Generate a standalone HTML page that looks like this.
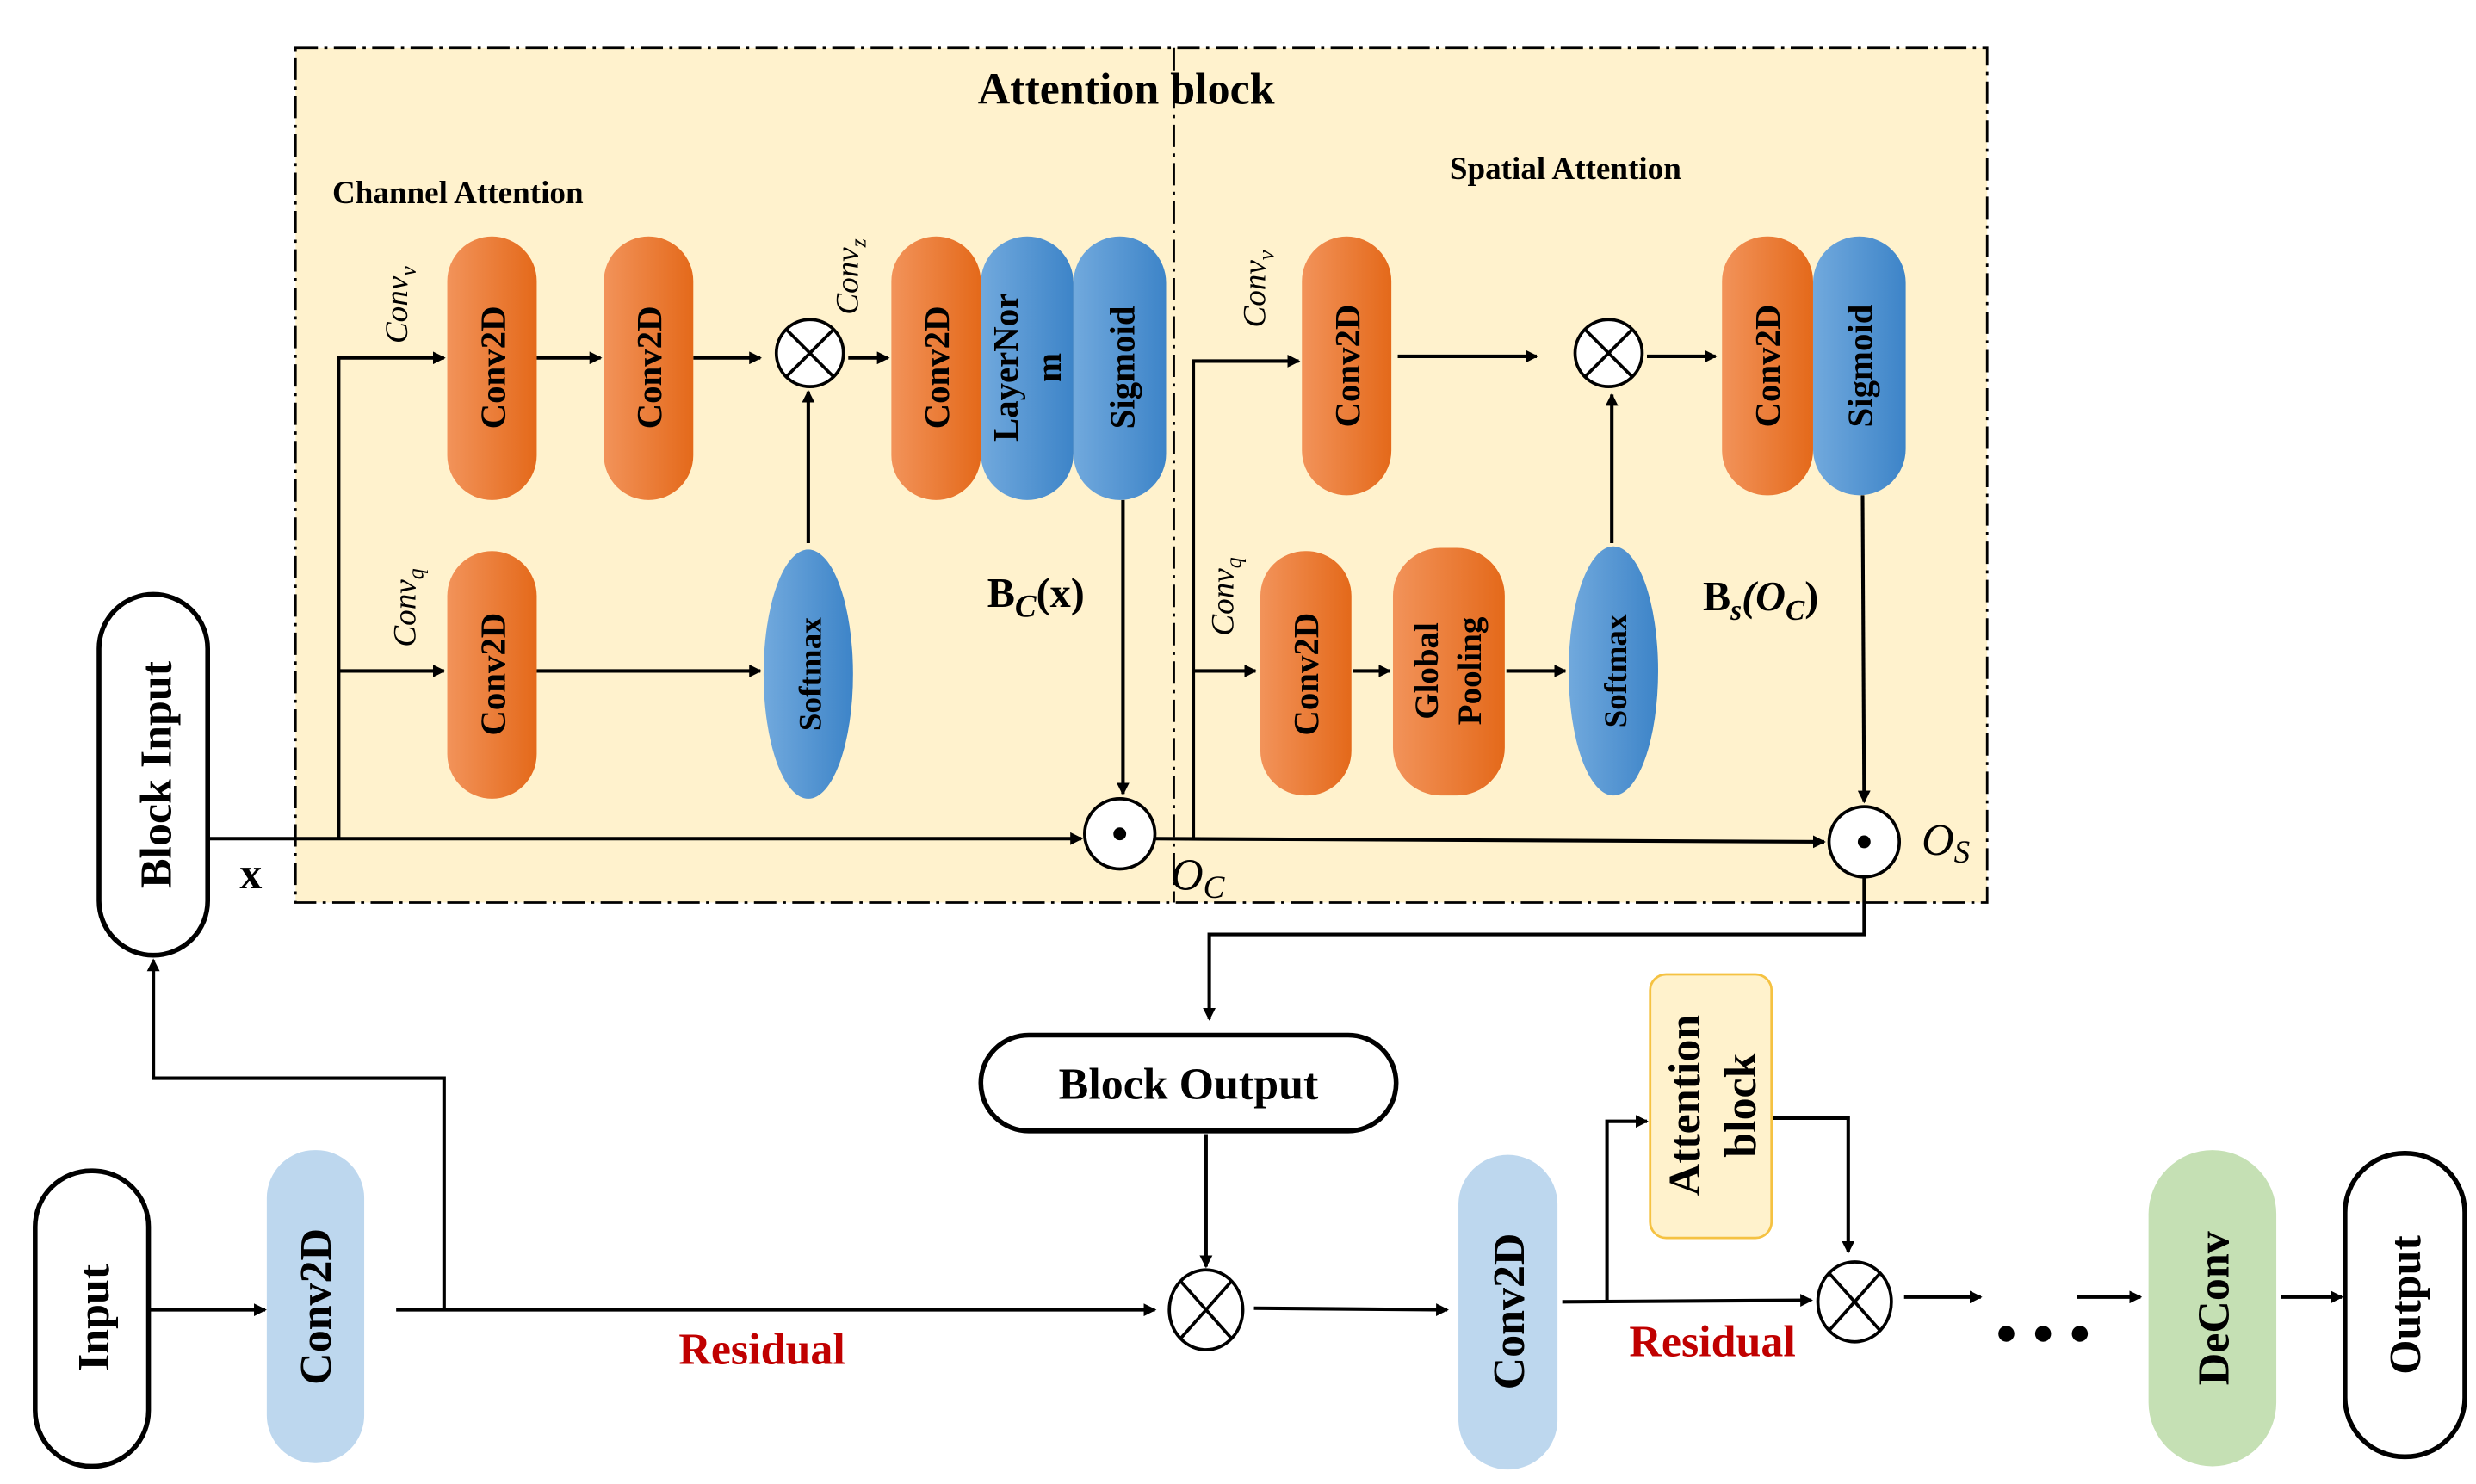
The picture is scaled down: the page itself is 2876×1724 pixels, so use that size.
<!DOCTYPE html>
<html><head><meta charset="utf-8"><style>html,body{margin:0;padding:0;background:#fff}svg{display:block}</style></head><body>
<svg width="2876" height="1724" viewBox="0 0 1550 929" xmlns="http://www.w3.org/2000/svg" font-family="Liberation Serif, serif">
<defs>
<linearGradient id="or" x1="0" x2="1" y1="0" y2="0"><stop offset="0" stop-color="#f2935a"/><stop offset="1" stop-color="#e4691a"/></linearGradient>
<linearGradient id="bl" x1="0" x2="1" y1="0" y2="0"><stop offset="0" stop-color="#71a9dd"/><stop offset="1" stop-color="#3d84c8"/></linearGradient>
<marker id="a" markerWidth="8" markerHeight="8" refX="7" refY="4" orient="auto" markerUnits="userSpaceOnUse"><path d="M0,0 L8,4 L0,8 z" fill="#000"/></marker>
</defs>
<rect x="185" y="30" width="1059" height="535" fill="#fff2cd" stroke="#000" stroke-width="1.5" stroke-dasharray="14,4,2,4"/>
<line x1="735" y1="30" x2="735" y2="565" stroke="#000" stroke-width="1.2" stroke-dasharray="14,4,2,4"/>
<text x="705" y="65" font-size="28" font-weight="bold" text-anchor="middle">Attention block</text>
<text x="208" y="127" font-size="20" font-weight="bold">Channel Attention</text>
<text x="980" y="112" font-size="20" font-weight="bold" text-anchor="middle">Spatial Attention</text>
<g stroke="#000" stroke-width="2.2" fill="none">
<polyline points="212,525 212,224 278,224" marker-end="url(#a)"/>
<line x1="336" y1="224" x2="376" y2="224" marker-end="url(#a)"/>
<line x1="434" y1="224" x2="476" y2="224" marker-end="url(#a)"/>
<line x1="531" y1="224" x2="556" y2="224" marker-end="url(#a)"/>
<line x1="212" y1="420" x2="278" y2="420" marker-end="url(#a)"/>
<line x1="336" y1="420" x2="476" y2="420" marker-end="url(#a)"/>
<line x1="506" y1="340" x2="506" y2="245" marker-end="url(#a)"/>
<line x1="703" y1="313" x2="703" y2="497" marker-end="url(#a)"/>
<line x1="130" y1="525" x2="677" y2="525" marker-end="url(#a)"/>
<polyline points="747,525 747,226 813,226" marker-end="url(#a)"/>
<line x1="875" y1="223" x2="962" y2="223" marker-end="url(#a)"/>
<line x1="1031" y1="223" x2="1074" y2="223" marker-end="url(#a)"/>
<line x1="747" y1="420" x2="786" y2="420" marker-end="url(#a)"/>
<line x1="847" y1="420" x2="870" y2="420" marker-end="url(#a)"/>
<line x1="943" y1="420" x2="980" y2="420" marker-end="url(#a)"/>
<line x1="1009" y1="340" x2="1009" y2="247" marker-end="url(#a)"/>
<line x1="1166" y1="310" x2="1167" y2="502" marker-end="url(#a)"/>
<line x1="723" y1="525" x2="1142" y2="527" marker-end="url(#a)"/>
<polyline points="1167,549 1167,585 757,585 757,638" marker-end="url(#a)"/>
<line x1="755" y1="710" x2="755" y2="793" marker-end="url(#a)"/>
<polyline points="278,820 278,675 96,675 96,601" marker-end="url(#a)"/>
<line x1="93" y1="820" x2="166" y2="820" marker-end="url(#a)"/>
<line x1="248" y1="820" x2="723" y2="820" marker-end="url(#a)"/>
<line x1="785" y1="819" x2="906" y2="820" marker-end="url(#a)"/>
<line x1="978" y1="815" x2="1134" y2="814" marker-end="url(#a)"/>
<polyline points="1006,815 1006,702 1031,702" marker-end="url(#a)"/>
<polyline points="1110,700 1157,700 1157,784" marker-end="url(#a)"/>
<line x1="1192" y1="812" x2="1240" y2="812" marker-end="url(#a)"/>
<line x1="1300" y1="812" x2="1340" y2="812" marker-end="url(#a)"/>
<line x1="1428" y1="812" x2="1466" y2="812" marker-end="url(#a)"/>
</g>
<!-- channel shapes -->
<rect x="280" y="148" width="56" height="165" rx="28" fill="url(#or)"/>
<rect x="378" y="148" width="56" height="165" rx="28" fill="url(#or)"/>
<rect x="280" y="345" width="56" height="155" rx="28" fill="url(#or)"/>
<rect x="672" y="148" width="58" height="165" rx="29" fill="url(#bl)"/>
<rect x="614" y="148" width="58" height="165" rx="29" fill="url(#bl)"/>
<rect x="558" y="148" width="56" height="165" rx="28" fill="url(#or)"/>
<ellipse cx="506" cy="422" rx="28" ry="78" fill="url(#bl)"/>
<!-- spatial shapes -->
<rect x="815" y="148" width="56" height="162" rx="28" fill="url(#or)"/>
<rect x="1135" y="148" width="58" height="162" rx="29" fill="url(#bl)"/>
<rect x="1078" y="148" width="57" height="162" rx="28" fill="url(#or)"/>
<rect x="789" y="345" width="57" height="153" rx="28" fill="url(#or)"/>
<rect x="872" y="343" width="70" height="155" rx="30" fill="url(#or)"/>
<ellipse cx="1010" cy="420" rx="28" ry="78" fill="url(#bl)"/>
<g font-weight="bold" font-size="22" text-anchor="middle" fill="#000">
<text transform="translate(316,230) rotate(-90)">Conv2D</text>
<text transform="translate(414,230) rotate(-90)">Conv2D</text>
<text transform="translate(316,422) rotate(-90)">Conv2D</text>
<text transform="translate(594,230) rotate(-90)">Conv2D</text>
<text transform="translate(637,230) rotate(-90)">LayerNor</text>
<text transform="translate(664,230) rotate(-90)">m</text>
<text transform="translate(710,230) rotate(-90)">Sigmoid</text>
<text transform="translate(514,422) rotate(-90)" font-size="20">Softmax</text>
<text transform="translate(851,229) rotate(-90)">Conv2D</text>
<text transform="translate(1114,229) rotate(-90)">Conv2D</text>
<text transform="translate(1172,229) rotate(-90)">Sigmoid</text>
<text transform="translate(825,422) rotate(-90)">Conv2D</text>
<text transform="translate(900,420) rotate(-90)" font-size="21">Global</text>
<text transform="translate(927,420) rotate(-90)" font-size="21">Pooling</text>
<text transform="translate(1018,420) rotate(-90)" font-size="20">Softmax</text>
</g>
<g font-style="italic" font-size="20">
<text transform="translate(255,215) rotate(-90)">Conv<tspan font-size="14" dy="5">v</tspan></text>
<text transform="translate(260,405) rotate(-90)">Conv<tspan font-size="14" dy="5">q</tspan></text>
<text transform="translate(537,197) rotate(-90)">Conv<tspan font-size="14" dy="5">z</tspan></text>
<text transform="translate(792,205) rotate(-90)">Conv<tspan font-size="14" dy="5">v</tspan></text>
<text transform="translate(772,398) rotate(-90)">Conv<tspan font-size="14" dy="5">q</tspan></text>
</g>
<text x="618" y="380" font-size="26" font-weight="bold">B<tspan font-style="italic" font-size="20" dy="6">C</tspan><tspan dy="-6">(x)</tspan></text>
<text x="1066" y="382" font-size="26" font-weight="bold">B<tspan font-style="italic" font-size="18" dy="6">s</tspan><tspan dy="-6" font-style="italic">(O</tspan><tspan font-style="italic" font-size="18" dy="6">C</tspan><tspan dy="-6">)</tspan></text>
<text x="733" y="557" font-size="28" font-style="italic">O<tspan font-size="20" dy="5">C</tspan></text>
<text x="1203" y="535" font-size="28" font-style="italic">O<tspan font-size="20" dy="5">S</tspan></text>
<text x="150" y="556" font-size="28" font-weight="bold">x</text>
<!-- operators -->
<g stroke="#000" stroke-width="2" fill="#fff">
<circle cx="507" cy="221" r="21"/><path d="M492,206 L522,236 M522,206 L492,236"/>
<circle cx="1007" cy="221" r="21"/><path d="M992,206 L1022,236 M1022,206 L992,236"/>
<circle cx="701" cy="522" r="22"/><circle cx="1167" cy="527" r="22"/>
<ellipse cx="755" cy="820" rx="23" ry="25"/><path d="M739,802 L771,838 M771,802 L739,838"/>
<ellipse cx="1161" cy="815" rx="23" ry="25"/><path d="M1145,797 L1177,833 M1177,797 L1145,833"/>
</g>
<circle cx="701" cy="522" r="4" fill="#000"/><circle cx="1167" cy="527" r="4" fill="#000"/>
<!-- bottom -->
<rect x="62" y="372" width="68" height="226" rx="34" fill="#fff" stroke="#000" stroke-width="3"/>
<text transform="translate(107,485) rotate(-90)" font-size="28" font-weight="bold" text-anchor="middle">Block Input</text>
<rect x="614" y="648" width="260" height="60" rx="30" fill="#fff" stroke="#000" stroke-width="3"/>
<text x="744" y="688" font-size="28" font-weight="bold" text-anchor="middle">Block Output</text>
<rect x="22" y="733" width="71" height="185" rx="35" fill="#fff" stroke="#000" stroke-width="3"/>
<text transform="translate(68,825) rotate(-90)" font-size="28" font-weight="bold" text-anchor="middle">Input</text>
<rect x="167" y="720" width="61" height="196" rx="30" fill="#bdd7ee"/>
<text transform="translate(207,818) rotate(-90)" font-size="28" font-weight="bold" text-anchor="middle">Conv2D</text>
<rect x="913" y="723" width="62" height="197" rx="31" fill="#bdd7ee"/>
<text transform="translate(954,821) rotate(-90)" font-size="28" font-weight="bold" text-anchor="middle">Conv2D</text>
<rect x="1033" y="610" width="76" height="165" rx="10" fill="#fff2cc" stroke="#f5c242" stroke-width="1.5"/>
<text transform="translate(1064,692) rotate(-90)" font-size="28" font-weight="bold" text-anchor="middle">Attention</text>
<text transform="translate(1099,692) rotate(-90)" font-size="28" font-weight="bold" text-anchor="middle">block</text>
<rect x="1345" y="720" width="80" height="198" rx="40" fill="#c5e0b4"/>
<text transform="translate(1395,819) rotate(-90)" font-size="28" font-weight="bold" text-anchor="middle">DeConv</text>
<rect x="1468" y="722" width="75" height="190" rx="37" fill="#fff" stroke="#000" stroke-width="3"/>
<text transform="translate(1515,817) rotate(-90)" font-size="28" font-weight="bold" text-anchor="middle">Output</text>
<text x="477" y="854" font-size="28" font-weight="bold" fill="#c00000" text-anchor="middle">Residual</text>
<text x="1072" y="849" font-size="28" font-weight="bold" fill="#c00000" text-anchor="middle">Residual</text>
<g fill="#000"><circle cx="1256" cy="835" r="5"/><circle cx="1279" cy="835" r="5"/><circle cx="1302" cy="835" r="5"/></g>
</svg>
</body></html>
